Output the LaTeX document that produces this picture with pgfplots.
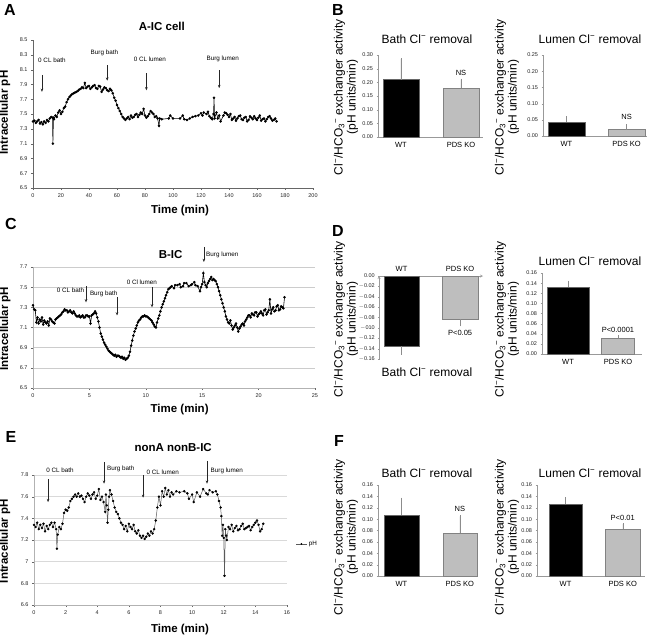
\documentclass[border=0pt]{standalone}
\usepackage{pgfplots}
\pgfplotsset{compat=1.18}
\usepackage{fontspec}
\setmainfont{Liberation Sans}
\usetikzlibrary{arrows.meta}
\newcommand\tkf{\fontsize{5.5}{6.5}\selectfont}
\newcommand\anf{\fontsize{6.3}{7.5}\selectfont}
\newcommand\lbf{\fontsize{11.5}{13}\selectfont\bfseries}
\newcommand\ttf{\fontsize{11.5}{13}\selectfont\bfseries}
\newcommand\btf{\fontsize{12}{13}\selectfont}
\newcommand\xbf{\fontsize{7.5}{9}\selectfont}
\newcommand\plf{\fontsize{16}{18}\selectfont\bfseries}
\newcommand\clm{Cl\textsuperscript{−}}
\newcommand\ylab{\clm/HCO\textsubscript{3}\textsuperscript{−} exchanger activity\\(pH units/min)}
\definecolor{kogray}{RGB}{190,190,190}
\definecolor{koedge}{RGB}{130,130,130}
\tikzset{ann/.style={-{Stealth[length=3.2pt,width=2.6pt]}, black!85, line width=0.45pt}}
\pgfplotsset{
  linepanel/.style={scale only axis, axis lines=left, axis line style={-}, x axis line style={-}, y axis line style={-},
    axis line style={black!60}, tick style={black!60}, tick align=outside, major tick length=2pt,
    ticklabel style={font=\tkf, text=black!85}, /pgf/number format/assume math mode=true, clip=false,
    xlabel style={font=\lbf}, ylabel style={font=\lbf}, title style={font=\ttf}},
  ts/.style={black, line width=0.6pt, mark=*, mark size=0.95pt, mark options={solid, fill=black}},
  barpanel/.style={scale only axis, axis lines=left, axis line style={-}, x axis line style={-}, y axis line style={-},
    axis line style={black!40}, tick style={black!40}, tick align=outside, major tick length=1.5pt,
    xtick={0,1}, xticklabels={WT,PDS KO}, xtick style={draw=none}, xticklabel style={font=\xbf},
    yticklabel style={font=\tkf, text=black!85, /pgf/number format/.cd, fixed, fixed zerofill, precision=2},
    /pgf/number format/assume math mode=true, clip=false},
  wt/.style={ybar, bar shift=0pt, fill=black, draw=black!60, line width=0.4pt,
    error bars/y explicit, error bars/y dir=plus, error bars/error bar style={black!45, line width=0.4pt}, error bars/error mark options={black!45, mark size=1pt, line width=0.4pt}},
  ko/.style={ybar, bar shift=0pt, fill=kogray, draw=koedge, line width=0.4pt,
    error bars/y explicit, error bars/y dir=plus, error bars/error bar style={black!45, line width=0.4pt}, error bars/error mark options={black!45, mark size=1pt, line width=0.4pt}},
}
\begin{document}
\begin{tikzpicture}
\path[use as bounding box] (0pt,0pt) rectangle (649pt,-637pt);
% panel letters
\node[font=\plf] at (10pt,-10pt) {A};
\node[font=\plf] at (338pt,-10pt) {B};
\node[font=\plf] at (11pt,-224pt) {C};
\node[font=\plf] at (338pt,-231pt) {D};
\node[font=\plf] at (11pt,-437pt) {E};
\node[font=\plf] at (339pt,-441pt) {F};

% ---------------- Panel A ----------------
\begin{axis}[linepanel, at={(33pt,-188pt)}, anchor=south west, width=280pt, height=148pt,
  xmin=0, xmax=200, ymin=6.5, ymax=8.5,
  xtick={0,20,40,60,80,100,120,140,160,180,200},
  ytick={6.5,6.7,6.9,7.1,7.3,7.5,7.7,7.9,8.1,8.3,8.5},
  yticklabel style={/pgf/number format/.cd, fixed, fixed zerofill, precision=1},
  xlabel={Time (min)}, ylabel={Intracellular pH},
  xlabel style={at={(axis description cs:0.525,-0.149)}, anchor=center},
  ylabel style={at={(axis description cs:-0.1,0.51)}, anchor=center},
  title={A-IC cell}, title style={at={(axis description cs:0.46,1.054)}, anchor=center}]
\addplot[ts] coordinates {
(0,7.40) (1,7.41) (2,7.38) (3,7.40) (4,7.42) (5,7.37) (6,7.39) (7,7.36) (8,7.40) (9,7.38) (10,7.42) (11,7.40) (12,7.44) (13,7.46) (14,7.45) (14.2,7.10) (14.6,7.45) (15,7.43) (16,7.48) (17,7.46) (18,7.52) (19,7.55) (20,7.50) (21,7.53) (22,7.58) (23,7.60) (24,7.66) (25,7.70) (26,7.73) (27,7.75) (28,7.77) (29,7.78) (30,7.79) (31,7.80) (32,7.81) (33,7.83) (34,7.84) (35,7.86) (36,7.85) (37,7.92) (38,7.85) (39,7.87) (40,7.88) (41,7.84) (42,7.86) (43,7.88) (44,7.89) (45,7.85) (46,7.84) (47,7.88) (48,7.87) (49,7.80) (50,7.83) (51,7.86) (52,7.85) (53,7.82) (54,7.81) (55,7.84) (56,7.82) (57,7.78) (58,7.72) (59,7.68) (60,7.62) (61,7.58) (62,7.54) (63,7.50) (64,7.46) (65,7.44) (66,7.42) (67,7.44) (68,7.46) (69,7.43) (70,7.48) (71,7.45) (72,7.46) (73,7.49) (74,7.50) (75,7.46) (76,7.49) (77,7.52) (78,7.50) (79,7.57) (80,7.48) (81,7.45) (82,7.47) (83,7.50) (84,7.54) (85,7.52) (86,7.50) (87,7.46) (88,7.47) (89,7.44) (90,7.34) (90.5,7.44) (92,7.43) (97,7.44) (98,7.48) (100,7.44) (105,7.44) (107,7.48) (108,7.43) (110,7.42) (112,7.44) (114,7.46) (116,7.47) (118,7.48) (120,7.51) (121,7.48) (122,7.52) (124,7.50) (125,7.53) (126,7.47) (127,7.45) (128,7.43) (129,7.50) (129.3,7.72) (129.7,7.44) (131,7.52) (132,7.44) (133,7.48) (134,7.40) (136,7.48) (137,7.52) (138,7.51) (139,7.49) (140,7.46) (141,7.50) (142,7.42) (143,7.44) (144,7.46) (145,7.41) (146,7.44) (147,7.47) (148,7.48) (149,7.43) (150,7.42) (151,7.45) (152,7.46) (153,7.40) (154,7.42) (155,7.47) (156,7.45) (157,7.43) (158,7.47) (159,7.44) (160,7.42) (161,7.45) (162,7.48) (163,7.41) (164,7.43) (165,7.44) (166,7.40) (167,7.43) (168,7.46) (169,7.47) (170,7.44) (171,7.41) (172,7.42) (173,7.44) (174,7.40)
};
\draw[ann] (axis cs:6.4,8.03) -- (axis cs:6.4,7.80);
\draw[ann] (axis cs:53,8.16) -- (axis cs:53,7.95);
\draw[ann] (axis cs:81,8.05) -- (axis cs:81,7.82);
\draw[ann] (axis cs:133,8.09) -- (axis cs:133,7.85);
\node[font=\anf] at (axis cs:13.5,8.23) {0 CL bath};
\node[font=\anf] at (axis cs:51,8.33) {Burg bath};
\node[font=\anf] at (axis cs:83.5,8.24) {0 CL lumen};
\node[font=\anf] at (axis cs:135.5,8.25) {Burg lumen};
\end{axis}

% ---------------- Panel C ----------------
\begin{axis}[linepanel, at={(33pt,-388pt)}, anchor=south west, width=282pt, height=121pt,
  xmin=0, xmax=25, ymin=6.5, ymax=7.7,
  xtick={0,5,10,15,20,25},
  ytick={6.5,6.7,6.9,7.1,7.3,7.5,7.7},
  ymajorgrids, grid style={black!20, line width=0.5pt},
  axis line style={black!30},
  yticklabel style={/pgf/number format/.cd, fixed, fixed zerofill, precision=1},
  xlabel={Time (min)}, ylabel={Intracellular pH},
  xlabel style={at={(axis description cs:0.52,-0.18)}, anchor=center},
  ylabel style={at={(axis description cs:-0.099,0.49)}, anchor=center}]
\addplot[ts] coordinates {
(0,7.32) (0.1,7.28) (0.2,7.27) (0.3,7.15) (0.4,7.20) (0.5,7.14) (0.6,7.18) (0.7,7.16) (0.8,7.20) (0.9,7.13) (1.0,7.17) (1.1,7.15) (1.2,7.14) (1.3,7.16) (1.4,7.12) (1.5,7.19) (1.6,7.18) (1.7,7.16) (1.8,7.15) (1.9,7.14) (2.0,7.18) (2.1,7.19) (2.2,7.20) (2.3,7.21) (2.4,7.22) (2.5,7.23) (2.6,7.25) (2.7,7.26) (2.8,7.28) (2.9,7.27) (3.0,7.27) (3.1,7.25) (3.2,7.26) (3.3,7.27) (3.4,7.25) (3.5,7.24) (3.6,7.26) (3.7,7.24) (3.8,7.22) (3.9,7.21) (4.0,7.21) (4.1,7.22) (4.2,7.20) (4.3,7.21) (4.4,7.22) (4.5,7.20) (4.6,7.20) (4.7,7.22) (4.8,7.22) (4.9,7.21) (5.0,7.21) (5.1,7.14) (5.2,7.22) (5.3,7.23) (5.4,7.24) (5.5,7.26) (5.6,7.24) (5.7,7.20) (5.8,7.16) (5.9,7.10) (6.0,7.04) (6.1,7.01) (6.2,6.98) (6.3,6.95) (6.4,6.93) (6.5,6.91) (6.6,6.89) (6.7,6.87) (6.8,6.86) (6.9,6.85) (7.0,6.84) (7.1,6.83) (7.2,6.82) (7.3,6.83) (7.4,6.81) (7.5,6.82) (7.6,6.82) (7.7,6.81) (7.8,6.80) (7.9,6.81) (8.0,6.79) (8.1,6.80) (8.2,6.78) (8.3,6.79) (8.4,6.80) (8.5,6.82) (8.6,6.86) (8.7,6.92) (8.8,6.97) (8.9,7.02) (9.0,7.06) (9.1,7.09) (9.2,7.12) (9.3,7.15) (9.4,7.17) (9.5,7.18) (9.6,7.20) (9.7,7.21) (9.8,7.21) (9.9,7.22) (10.0,7.21) (10.1,7.21) (10.2,7.20) (10.3,7.19) (10.4,7.18) (10.5,7.17) (10.6,7.15) (10.7,7.13) (10.8,7.11) (10.9,7.10) (11.0,7.15) (11.1,7.19) (11.2,7.22) (11.3,7.26) (11.4,7.30) (11.5,7.33) (11.6,7.36) (11.7,7.39) (11.8,7.42) (11.9,7.45) (12.0,7.48) (12.1,7.49) (12.2,7.50) (12.3,7.51) (12.5,7.49) (12.6,7.52) (12.8,7.52) (13.0,7.53) (13.1,7.50) (13.3,7.51) (13.4,7.54) (13.6,7.54) (13.8,7.51) (14.0,7.52) (14.1,7.53) (14.3,7.55) (14.4,7.52) (14.6,7.51) (14.8,7.46) (14.9,7.50) (15.0,7.53) (15.1,7.64) (15.2,7.55) (15.3,7.52) (15.4,7.50) (15.5,7.54) (15.6,7.56) (15.7,7.58) (15.8,7.60) (15.9,7.57) (16.0,7.58) (16.1,7.57) (16.2,7.56) (16.3,7.53) (16.4,7.50) (16.5,7.46) (16.6,7.42) (16.7,7.38) (16.8,7.34) (16.9,7.30) (17.0,7.26) (17.1,7.21) (17.2,7.18) (17.3,7.15) (17.4,7.14) (17.5,7.17) (17.6,7.12) (17.7,7.08) (17.8,7.10) (17.9,7.12) (18.0,7.14) (18.1,7.10) (18.2,7.06) (18.3,7.09) (18.4,7.11) (18.5,7.13) (18.6,7.14) (18.7,7.12) (18.8,7.16) (18.9,7.18) (19.0,7.20) (19.1,7.22) (19.2,7.22) (19.3,7.20) (19.4,7.24) (19.5,7.23) (19.6,7.22) (19.7,7.25) (19.8,7.25) (19.9,7.21) (20.0,7.23) (20.1,7.24) (20.2,7.26) (20.3,7.24) (20.4,7.22) (20.5,7.27) (20.6,7.28) (20.7,7.23) (20.8,7.25) (20.9,7.27) (21.0,7.38) (21.1,7.24) (21.2,7.28) (21.3,7.30) (21.4,7.26) (21.5,7.27) (21.6,7.31) (21.7,7.32) (21.8,7.27) (21.9,7.28) (22.0,7.31) (22.1,7.30) (22.2,7.29) (22.3,7.40)
};
\draw[ann] (axis cs:4.7,7.51) -- (axis cs:4.7,7.35);
\draw[ann] (axis cs:7.45,7.40) -- (axis cs:7.45,7.22);
\draw[ann] (axis cs:10.55,7.50) -- (axis cs:10.55,7.30);
\draw[ann] (axis cs:15.15,7.90) -- (axis cs:15.15,7.75);
\node[font=\anf, anchor=east, inner sep=1pt] at (axis cs:4.65,7.47) {0 CL bath};
\node[font=\anf, anchor=west, inner sep=1pt] at (axis cs:4.95,7.43) {Burg bath};
\node[font=\anf] at (axis cs:9.65,7.55) {0 Cl lumen};
\node[font=\anf, anchor=west, inner sep=1pt] at (axis cs:15.25,7.82) {Burg lumen};
\node[font=\ttf] at (axis cs:12.2,7.82) {B-IC};
\end{axis}

% ---------------- Panel E ----------------
\begin{axis}[linepanel, at={(34pt,-605pt)}, anchor=south west, width=253pt, height=130pt,
  xmin=0, xmax=16, ymin=6.6, ymax=7.8,
  xtick={0,2,4,6,8,10,12,14,16},
  ytick={6.6,6.8,7,7.2,7.4,7.6,7.8},
  ymajorgrids, grid style={black!15, line width=0.5pt},
  axis line style={black!30},
  xlabel={Time (min)}, ylabel={Intracellular pH},
  xlabel style={at={(axis description cs:0.577,-0.19)}, anchor=center},
  ylabel style={at={(axis description cs:-0.115,0.49)}, anchor=center},
  legend style={at={(1.035,0.47)}, anchor=west, draw=none, fill=none, font=\anf, inner sep=0pt},
  legend image post style={scale=0.6}]
\addplot[black!65, line width=0.5pt, mark=*, mark size=0.95pt, mark options={solid, fill=black, draw=black}] coordinates {
(0,7.34) (0.1,7.32) (0.2,7.36) (0.3,7.30) (0.4,7.34) (0.5,7.31) (0.6,7.35) (0.7,7.28) (0.8,7.33) (0.9,7.30) (1.0,7.34) (1.1,7.36) (1.2,7.32) (1.3,7.36) (1.4,7.30) (1.45,7.12) (1.5,7.25) (1.6,7.32) (1.7,7.30) (1.8,7.35) (1.9,7.45) (2.0,7.48) (2.1,7.47) (2.2,7.50) (2.3,7.56) (2.4,7.58) (2.5,7.60) (2.6,7.62) (2.7,7.60) (2.8,7.63) (2.9,7.60) (3.0,7.61) (3.1,7.58) (3.2,7.55) (3.3,7.60) (3.4,7.63) (3.5,7.61) (3.6,7.58) (3.7,7.62) (3.8,7.64) (3.9,7.58) (4.0,7.61) (4.1,7.67) (4.2,7.57) (4.3,7.60) (4.4,7.55) (4.5,7.46) (4.55,7.62) (4.6,7.52) (4.65,7.36) (4.7,7.48) (4.75,7.60) (4.8,7.66) (4.9,7.62) (5.0,7.56) (5.1,7.50) (5.2,7.46) (5.3,7.44) (5.4,7.40) (5.5,7.36) (5.6,7.34) (5.7,7.30) (5.8,7.33) (5.9,7.28) (6.0,7.35) (6.1,7.32) (6.2,7.30) (6.3,7.34) (6.4,7.28) (6.5,7.26) (6.6,7.29) (6.7,7.24) (6.8,7.22) (6.9,7.24) (7.0,7.21) (7.1,7.23) (7.2,7.26) (7.3,7.24) (7.4,7.28) (7.5,7.26) (7.6,7.30) (7.7,7.38) (7.8,7.50) (7.9,7.60) (8.0,7.52) (8.1,7.65) (8.2,7.60) (8.3,7.68) (8.4,7.62) (8.5,7.66) (8.6,7.60) (8.7,7.64) (8.8,7.62) (9.0,7.65) (9.2,7.64) (9.5,7.65) (9.7,7.63) (9.8,7.58) (10.0,7.62) (10.1,7.55) (10.3,7.64) (10.5,7.60) (10.7,7.67) (10.9,7.63) (11.0,7.62) (11.1,7.66) (11.3,7.64) (11.5,7.65) (11.6,7.62) (11.7,7.56) (11.8,7.50) (11.85,7.42) (11.9,7.24) (11.95,7.34) (12.0,7.22) (12.05,6.87) (12.1,7.30) (12.15,7.24) (12.2,7.20) (12.3,7.32) (12.4,7.30) (12.5,7.34) (12.6,7.28) (12.7,7.31) (12.8,7.33) (12.9,7.29) (13.0,7.30) (13.1,7.33) (13.2,7.35) (13.3,7.30) (13.4,7.31) (13.5,7.32) (13.6,7.33) (13.7,7.29) (13.8,7.32) (13.9,7.34) (14.0,7.36) (14.1,7.38) (14.2,7.34) (14.3,7.28) (14.4,7.30) (14.5,7.35)
};
\addlegendentry{pH}
\draw[ann] (axis cs:0.89,7.76) -- (axis cs:0.89,7.55);
\draw[ann] (axis cs:4.43,7.92) -- (axis cs:4.43,7.72);
\draw[ann] (axis cs:6.9,7.80) -- (axis cs:6.9,7.59);
\draw[ann] (axis cs:10.94,7.93) -- (axis cs:10.94,7.72);
\node[font=\anf, anchor=west, inner sep=1pt] at (axis cs:0.7,7.84) {0 CL bath};
\node[font=\anf, anchor=west, inner sep=1pt] at (axis cs:4.55,7.86) {Burg bath};
\node[font=\anf, anchor=west, inner sep=1pt] at (axis cs:7.05,7.83) {0 CL lumen};
\node[font=\anf, anchor=west, inner sep=1pt] at (axis cs:11.1,7.84) {Burg lumen};
\node[font=\ttf] at (axis cs:8.8,8.05) {nonA nonB-IC};
\end{axis}

% ---------------- Panel B ----------------
\begin{axis}[barpanel, at={(378pt,-137pt)}, anchor=south west, width=105pt, height=82pt,
  xmin=-0.383, xmax=1.367, ymin=0, ymax=0.30, ytick={0,0.05,0.10,0.15,0.20,0.25,0.30}]
\addplot[wt, bar width=36pt] coordinates {(0,0.21) +- (0,0.075)};
\addplot[ko, bar width=36pt] coordinates {(1,0.18) +- (0,0.03)};
\node[font=\xbf] at (axis cs:1,0.234) {NS};
\end{axis}
\begin{axis}[barpanel, at={(543pt,-136pt)}, anchor=south west, width=104pt, height=81pt,
  xmin=-0.39, xmax=1.34, ymin=0, ymax=0.25, ytick={0,0.05,0.10,0.15,0.20,0.25}]
\addplot[wt, bar width=37pt] coordinates {(0,0.042) +- (0,0.016)};
\addplot[ko, bar width=37pt] coordinates {(1,0.020) +- (0,0.013)};
\node[font=\xbf] at (axis cs:1,0.059) {NS};
\end{axis}
\node[font=\btf] at (427pt,-39pt) {Bath \clm{} removal};
\node[font=\btf] at (590pt,-39pt) {Lumen \clm{} removal};
\node[font=\btf, rotate=90, align=center] at (346pt,-97pt) {\ylab};
\node[font=\btf, rotate=90, align=center] at (507pt,-97pt) {\ylab};

% ---------------- Panel D ----------------
\begin{axis}[barpanel, at={(379pt,-359pt)}, anchor=south west, width=104pt, height=83pt,
  axis x line=top, axis y line=left,
  xmin=-0.385, xmax=1.39, ymin=-0.16, ymax=0,
  ytick={-0.16,-0.14,-0.12,-0.10,-0.08,-0.06,-0.04,-0.02,0},
  yticklabels={$-$0.16,$-$0.14,$-$0.12,$-$010,$-$0.08,$-$0.06,$-$0.04,$-$0.02,0.00},
  xticklabel style={font=\xbf}]
\addplot[wt, bar width=35pt, error bars/y dir=minus] coordinates {(0,-0.135) +- (0,0.015)};
\addplot[ko, bar width=36pt, error bars/y dir=minus] coordinates {(1,-0.083) +- (0,0.012)};
\node[font=\xbf] at (axis cs:1,-0.11) {P<0.05};
\end{axis}
\begin{axis}[barpanel, at={(542pt,-354pt)}, anchor=south west, width=100pt, height=81pt,
  xmin=-0.52, xmax=1.48, ymin=0, ymax=0.16, ytick={0,0.02,0.04,0.06,0.08,0.10,0.12,0.14,0.16}]
\addplot[wt, bar width=42pt] coordinates {(0,0.132) +- (0,0.011)};
\addplot[ko, bar width=33pt] coordinates {(1,0.032) +- (0,0.004)};
\node[font=\xbf, anchor=south] at (axis cs:1,0.035) {P<0.0001};
\end{axis}
\node[font=\btf] at (427pt,-372pt) {Bath \clm{} removal};
\node[font=\btf] at (590pt,-261pt) {Lumen \clm{} removal};
\node[font=\btf, rotate=90, align=center] at (346pt,-319pt) {\ylab};
\node[font=\btf, rotate=90, align=center] at (507pt,-319pt) {\ylab};

% ---------------- Panel F ----------------
\begin{axis}[barpanel, at={(378pt,-576pt)}, anchor=south west, width=100pt, height=91pt,
  xmin=-0.40, xmax=1.31, ymin=0, ymax=0.16, ytick={0,0.02,0.04,0.06,0.08,0.10,0.12,0.14,0.16}]
\addplot[wt, bar width=35pt] coordinates {(0,0.107) +- (0,0.029)};
\addplot[ko, bar width=34pt] coordinates {(1,0.075) +- (0,0.030)};
\node[font=\xbf] at (axis cs:1,0.118) {NS};
\end{axis}
\begin{axis}[barpanel, at={(537pt,-576pt)}, anchor=south west, width=108pt, height=91pt,
  xmin=-0.5, xmax=1.39, ymin=0, ymax=0.16, ytick={0,0.02,0.04,0.06,0.08,0.10,0.12,0.14,0.16}]
\addplot[wt, bar width=33pt] coordinates {(0,0.126) +- (0,0.011)};
\addplot[ko, bar width=35pt] coordinates {(1,0.082) +- (0,0.009)};
\node[font=\xbf] at (axis cs:1,0.102) {P<0.01};
\end{axis}
\node[font=\btf] at (427pt,-473pt) {Bath \clm{} removal};
\node[font=\btf] at (590pt,-473pt) {Lumen \clm{} removal};
\node[font=\btf, rotate=90, align=center] at (346pt,-537pt) {\ylab};
\node[font=\btf, rotate=90, align=center] at (507pt,-537pt) {\ylab};
\end{tikzpicture}
\end{document}
